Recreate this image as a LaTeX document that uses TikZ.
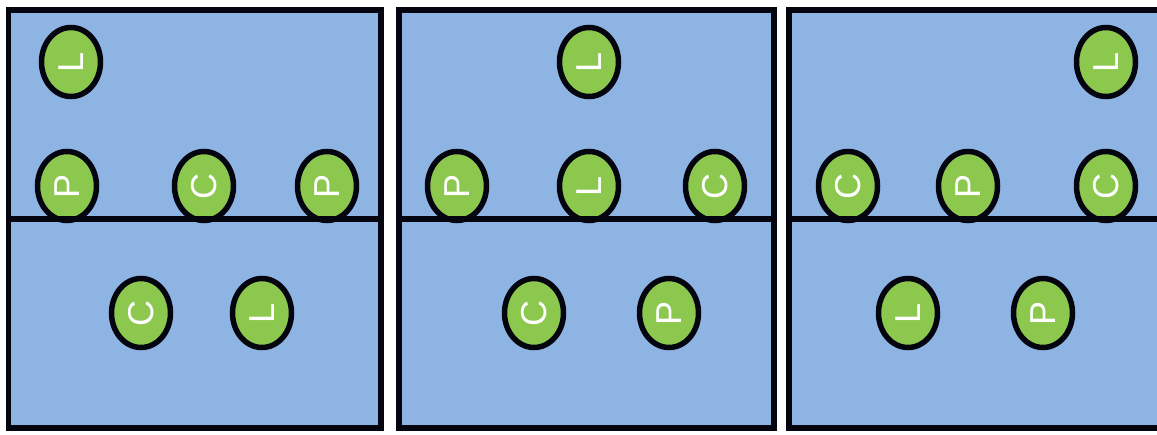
\documentclass[tikz,border=0pt]{standalone}
\usepackage{fontspec}
\setmainfont{Liberation Sans}
\usetikzlibrary{shapes.geometric}
\definecolor{fieldblue}{HTML}{8EB4E3}
\definecolor{ballgreen}{HTML}{8DC84E}
\definecolor{edgeblack}{HTML}{050510}
\tikzset{
  panel/.style={draw=edgeblack, line width=5.5pt, fill=fieldblue},
  divider/.style={draw=edgeblack, line width=6pt},
  ball/.style={ellipse, draw=edgeblack, line width=5.5pt, fill=ballgreen,
    minimum width=69pt, minimum height=59pt, inner sep=0pt, rotate=90,
    text=white, font=\fontsize{36}{36}\selectfont}
}
\begin{document}
\begin{tikzpicture}[x=1pt,y=-1pt]
\useasboundingbox (0,0) rectangle (1157,434);
\clip (0,0) rectangle (1157,434);
\fill[white] (0,0) rectangle (1157,434);
% panels
\draw[panel] (8.5,10) rectangle (381,428);
\draw[panel] (399,10) rectangle (774,428);
\draw[panel] (789,10) rectangle (1163,428);
% panel 1
\node[ball] (a1) at (71,62) {L};
\node[ball] (a2) at (67,186) {P};
\node[ball] (a3) at (204,186) {C};
\node[ball] (a4) at (327,186) {P};
\node[ball] (a5) at (141,313) {C};
\node[ball] (a6) at (262,313) {L};
% panel 2
\node[ball] (b1) at (589,62) {L};
\node[ball] (b2) at (457,186) {P};
\node[ball] (b3) at (589,186) {L};
\node[ball] (b4) at (715,186) {C};
\node[ball] (b5) at (534,313) {C};
\node[ball] (b6) at (669,313) {P};
% panel 3
\node[ball] (c1) at (1106,62) {L};
\node[ball] (c2) at (848,186) {C};
\node[ball] (c3) at (968,186) {P};
\node[ball] (c4) at (1106,186) {C};
\node[ball] (c5) at (908,313) {L};
\node[ball] (c6) at (1043,313) {P};
% dividers
\draw[divider] (8.5,219) -- (381,219);
\draw[divider] (399,219) -- (774,219);
\draw[divider] (789,219) -- (1163,219);
\end{tikzpicture}
\end{document}
